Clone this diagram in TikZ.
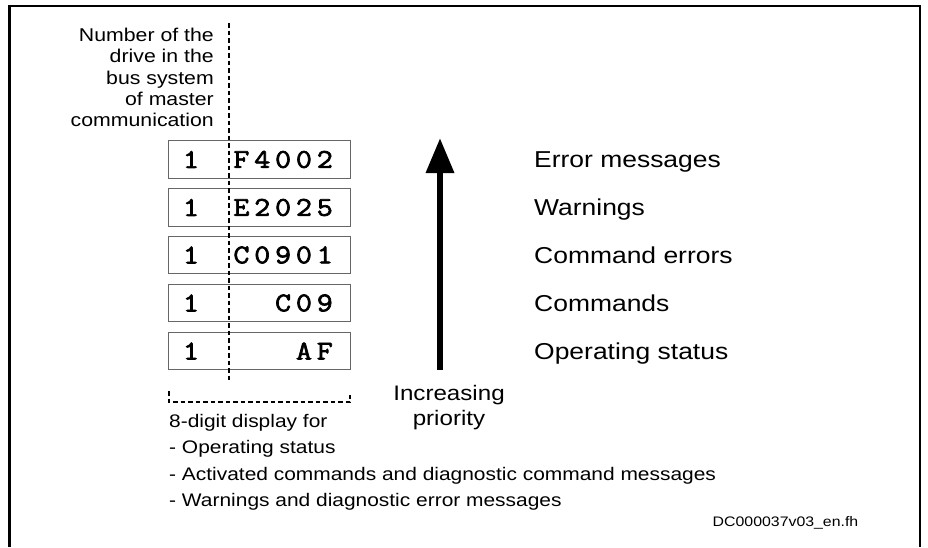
\documentclass[tikz,border=0pt]{standalone}
\usepackage{fontspec}
\setmainfont[FakeStretch=1.15]{Liberation Sans}
\newfontfamily\codefont[FakeStretch=1.15, FakeBold=2.6, LetterSpace=18]{Latin Modern Mono}
\usetikzlibrary{arrows.meta}
\begin{document}
\begin{tikzpicture}[x=1pt,y=-1pt,
  frame/.style={line width=2.5pt, line join=miter},
  numbox/.style={draw=black!60, line width=1pt, minimum width=182pt, minimum height=37.5pt, inner sep=0pt},
  drvnum/.style={font=\codefont\fontsize{27}{30}\selectfont, inner sep=0pt},
  codetxt/.style={font=\codefont\fontsize{27}{30}\selectfont, inner sep=0pt, anchor=east},
  lab/.style={font=\fontsize{23}{27}\selectfont, inner sep=0pt, anchor=base west},
  dashline/.style={line width=1.1pt, dash pattern=on 4.5pt off 3pt},
  bigarrow/.style={line width=6.5pt, -{Triangle[width=27pt,length=35pt]}}
]
\useasboundingbox (0,0) rectangle (928,547);
% frame
\coordinate (fbl) at (9.5,547);
\coordinate (ftl) at (9.5,6);
\coordinate (ftr) at (920,6);
\coordinate (fbr) at (920,547);
\draw[frame] (fbl) -- (ftl) -- (ftr) -- (fbr);

% top-left text
\node[anchor=north east, inner sep=0pt, align=right,
  font=\fontsize{18.5}{21.3}\selectfont] (drvtxt) at (214,28)
  {Number of the\\drive in the\\bus system\\of master\\communication};

% boxes
\foreach \i/\c/\y in {1/F4002/159.5, 2/E2025/207.5, 3/C0901/255, 4/C09/303, 5/AF/351}{
  \node[numbox] (b\i) at (259,\y) {};
  \node[drvnum] (n\i) at (191,\y) {1};
  \node[codetxt] (c\i) at (333,\y) {\c};
}

% vertical dashed line
\coordinate (vt) at (229,23);
\coordinate (vb) at (229,380);
\draw[dashline] (vt) -- (vb);

% bracket
\coordinate (br1) at (169,391);
\coordinate (br2) at (169,402);
\coordinate (br3) at (350,402);
\coordinate (br4) at (350,392);
\draw[dashline] (br1) -- (br2) -- (br3) -- (br4);

% bottom text
\node[anchor=north west, inner sep=0pt, align=left,
  font=\fontsize{18.2}{26.5}\selectfont] (dsp) at (169,414)
  {8-digit display for\\- Operating status\\- Activated commands and diagnostic command messages\\- Warnings and diagnostic error messages};

% arrow
\coordinate (abot) at (440,370);
\coordinate (atop) at (440,138);
\draw[bigarrow] (abot) -- (atop);
\node[anchor=north, inner sep=0pt, align=center,
  font=\fontsize{21}{25}\selectfont] (prio) at (449,385.5) {Increasing\\priority};

% right labels
\node[lab] (l1) at (534,167.5) {Error messages};
\node[lab] (l2) at (534,215.5) {Warnings};
\node[lab] (l3) at (534,263) {Command errors};
\node[lab] (l4) at (534,311) {Commands};
\node[lab] (l5) at (534,359) {Operating status};

% id
\node[anchor=east, inner sep=0pt, font=\fontsize{13.8}{16}\selectfont] (dcid) at (858.5,523) {DC000037v03\_en.fh};
\end{tikzpicture}
\end{document}
